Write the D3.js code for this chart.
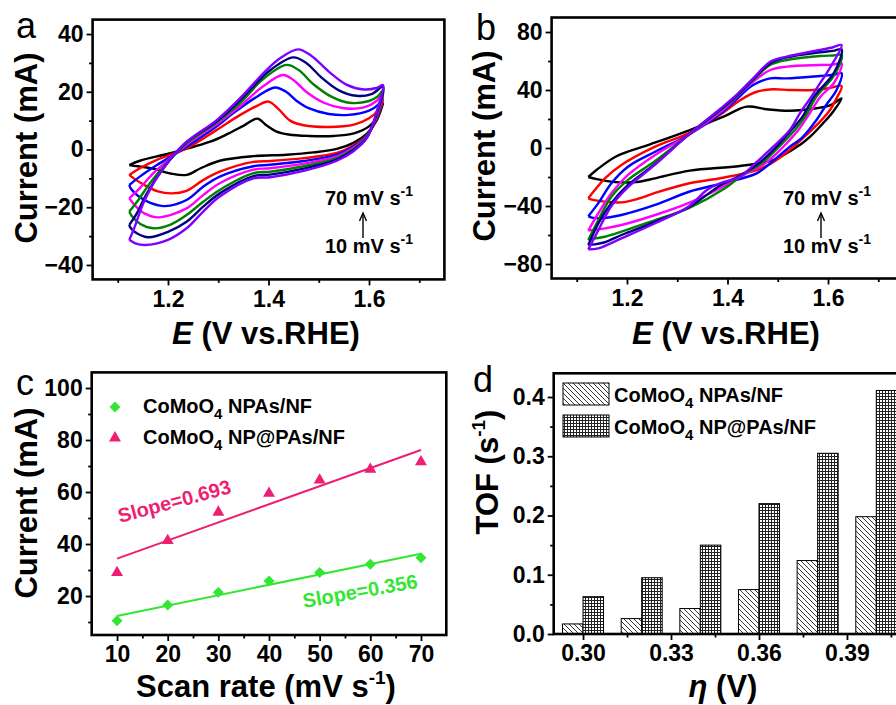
<!DOCTYPE html>
<html>
<head>
<meta charset="utf-8">
<script src="https://cdn.jsdelivr.net/npm/d3@7"></script>
<style>
  body { margin: 0; background: #fff; }
  svg { display: block; font-family: "Liberation Sans", Arial, sans-serif; font-weight: bold; }
</style>
</head>
<body>
<svg id="fig" width="896" height="705"></svg>
<script>
// ---- data -------------------------------------------------------------
// scan rates shared by panels a-c (mV/s)
const scanRates = [10, 20, 30, 40, 50, 60, 70];
const cvColors = ['#000000', '#ff0000', '#0000ff', '#ff00ff', '#008000', '#000080', '#7f00ff'];

// panel a: CoMoO4 NPAs/NF, [E (V), I (mA)], anodic sweep then cathodic sweep
const cvA10 = [[1.123,-5.4],[1.144,-3.9],[1.204,-1.3],[1.284,2.7],[1.320,5.5],[1.350,8.2],[1.378,10.7],[1.395,8.5],[1.415,6.3],[1.44,5.2],[1.48,4.7],[1.53,4.7],[1.57,5.6],[1.60,8.0],[1.618,11.5],[1.628,16.0],
  [1.615,10.0],[1.596,5.5],[1.569,2.3],[1.536,0.2],[1.49,-1.0],[1.436,-1.8],[1.370,-2.3],[1.303,-3.9],[1.265,-6.5],[1.237,-8.8],[1.205,-8.3],[1.17,-6.6],[1.14,-5.8],[1.123,-5.4]];
const cvA20 = [[1.123,-8.8],[1.144,-6.5],[1.178,-3.6],[1.237,0.4],[1.297,6.8],[1.343,11.9],[1.377,15.1],[1.400,16.6],[1.42,14.0],[1.443,10.0],[1.47,8.4],[1.52,7.8],[1.57,8.6],[1.60,10.8],[1.618,13.5],[1.628,17.1],
  [1.615,10.5],[1.596,5.0],[1.569,1.5],[1.536,-1.2],[1.47,-3.0],[1.403,-4.0],[1.370,-4.3],[1.303,-7.7],[1.27,-10.6],[1.237,-14.3],[1.207,-15.2],[1.18,-14.5],[1.15,-12.0],[1.132,-10.0],[1.123,-8.8]];
const cvA30 = [[1.123,-12.3],[1.144,-9.4],[1.178,-5.4],[1.211,-1.9],[1.247,2.1],[1.297,8.0],[1.33,12.6],[1.377,18.3],[1.413,21.5],[1.435,20.0],[1.455,17.0],[1.48,14.3],[1.52,12.3],[1.56,12.0],[1.60,13.5],[1.618,15.5],[1.628,18.9],
  [1.615,11.0],[1.596,5.0],[1.569,1.0],[1.536,-1.8],[1.47,-4.0],[1.403,-5.3],[1.370,-5.8],[1.303,-9.4],[1.27,-12.9],[1.237,-17.5],[1.194,-19.6],[1.165,-18.5],[1.14,-16.0],[1.126,-13.5],[1.123,-12.3]];
const cvA40 = [[1.123,-16.9],[1.144,-13.4],[1.171,-8.2],[1.204,-3.1],[1.240,2.1],[1.297,8.8],[1.343,15.0],[1.39,22.0],[1.429,25.8],[1.45,24.0],[1.475,20.0],[1.51,16.2],[1.55,14.3],[1.59,14.6],[1.615,16.8],[1.628,19.7],
  [1.615,11.5],[1.596,4.8],[1.569,0.6],[1.536,-2.4],[1.47,-4.9],[1.403,-6.5],[1.370,-7.0],[1.303,-11.7],[1.27,-15.8],[1.237,-20.4],[1.181,-23.5],[1.155,-22.3],[1.135,-19.5],[1.123,-16.9]];
const cvA50 = [[1.123,-21.5],[1.141,-17.5],[1.164,-11.7],[1.197,-4.8],[1.237,2.1],[1.297,9.4],[1.343,16.0],[1.39,24.5],[1.436,29.3],[1.46,27.5],[1.49,22.5],[1.525,18.3],[1.56,16.2],[1.60,16.8],[1.618,18.5],[1.628,20.6],
  [1.615,12.0],[1.596,4.5],[1.569,0.2],[1.536,-3.0],[1.47,-5.8],[1.403,-7.7],[1.370,-8.2],[1.303,-14.0],[1.27,-18.1],[1.237,-22.7],[1.204,-26.1],[1.171,-27.3],[1.145,-25.8],[1.128,-23.0],[1.123,-21.5]];
const cvA60 = [[1.123,-26.1],[1.138,-22.1],[1.158,-15.2],[1.191,-6.5],[1.234,2.1],[1.297,9.8],[1.343,17.0],[1.40,27.0],[1.449,31.9],[1.475,30.0],[1.505,25.0],[1.54,20.5],[1.575,18.6],[1.605,19.2],[1.628,21.7],
  [1.615,12.5],[1.596,4.2],[1.569,-0.2],[1.536,-3.5],[1.47,-6.6],[1.403,-8.7],[1.370,-9.2],[1.303,-15.2],[1.27,-19.8],[1.237,-25.0],[1.20,-28.5],[1.161,-30.4],[1.138,-29.0],[1.125,-27.0],[1.123,-26.1]];
const cvA70 = [[1.123,-31.3],[1.134,-26.7],[1.151,-18.6],[1.184,-8.2],[1.230,1.6],[1.297,10.2],[1.343,17.7],[1.396,27.5],[1.423,31.6],[1.459,34.7],[1.485,32.5],[1.52,27.0],[1.555,22.5],[1.59,20.8],[1.615,21.3],[1.628,22.3],
  [1.615,13.0],[1.596,4.0],[1.569,-0.6],[1.536,-3.9],[1.47,-7.4],[1.403,-9.6],[1.370,-10.0],[1.303,-16.3],[1.27,-21.5],[1.237,-27.3],[1.20,-31.3],[1.154,-33.1],[1.135,-32.5],[1.123,-31.3]];

// panel b: CoMoO4 NP@PAs/NF
const cvB10 = [[1.123,-20.0],[1.14,-15.0],[1.18,-5.5],[1.246,2.5],[1.325,12.4],[1.392,21.6],[1.438,28.5],[1.478,26.7],[1.524,25.7],[1.577,27.4],[1.605,29.5],[1.627,34.3],
  [1.610,25.0],[1.590,17.0],[1.565,8.0],[1.544,2.1],[1.491,-8.3],[1.425,-12.4],[1.325,-15.6],[1.256,-20.9],[1.219,-23.5],[1.176,-23.5],[1.14,-21.5],[1.123,-20.0]];
const cvB20 = [[1.123,-34.7],[1.136,-29.0],[1.156,-20.9],[1.189,-11.7],[1.256,0.9],[1.322,10.1],[1.392,24.5],[1.425,33.0],[1.458,38.8],[1.49,40.5],[1.524,40.0],[1.57,40.0],[1.605,41.5],[1.627,42.8],
  [1.615,33.0],[1.604,26.2],[1.585,18.5],[1.564,11.3],[1.524,-1.4],[1.485,-11.0],[1.458,-15.2],[1.391,-20.5],[1.322,-24.5],[1.256,-31.0],[1.222,-35.0],[1.189,-37.5],[1.156,-37.0],[1.135,-36.0],[1.123,-34.7]];
const cvB30 = [[1.123,-47.0],[1.143,-38.0],[1.169,-24.3],[1.202,-12.9],[1.256,-2.6],[1.322,9.0],[1.395,26.2],[1.418,33.6],[1.451,43.4],[1.485,48.0],[1.518,48.0],[1.584,49.7],[1.61,50.5],[1.627,51.5],
  [1.617,40.0],[1.597,30.0],[1.577,19.3],[1.548,7.0],[1.524,0.9],[1.485,-10.6],[1.458,-17.5],[1.391,-24.3],[1.325,-30.0],[1.256,-39.3],[1.189,-46.2],[1.149,-48.5],[1.13,-48.0],[1.123,-47.0]];
const cvB40 = [[1.123,-57.0],[1.143,-45.0],[1.169,-31.2],[1.202,-18.6],[1.256,-4.8],[1.322,9.0],[1.395,27.4],[1.418,35.0],[1.451,45.7],[1.485,53.8],[1.518,56.1],[1.584,57.2],[1.61,57.5],[1.627,58.4],
  [1.612,45.0],[1.585,35.4],[1.56,22.0],[1.541,12.4],[1.51,0.5],[1.475,-10.6],[1.44,-17.0],[1.395,-26.0],[1.322,-38.0],[1.256,-46.2],[1.189,-53.1],[1.156,-55.4],[1.135,-56.5],[1.123,-57.0]];
const cvB50 = [[1.123,-63.4],[1.143,-49.7],[1.169,-33.6],[1.202,-22.0],[1.256,-9.0],[1.322,9.0],[1.395,28.5],[1.418,35.4],[1.451,46.9],[1.485,57.2],[1.518,60.7],[1.584,63.4],[1.61,63.8],[1.627,64.1],
  [1.612,50.0],[1.577,35.4],[1.555,22.0],[1.534,12.4],[1.50,0.0],[1.468,-10.6],[1.43,-18.5],[1.395,-27.8],[1.322,-41.6],[1.256,-49.7],[1.189,-57.7],[1.156,-61.2],[1.135,-62.5],[1.123,-63.4]];
const cvB60 = [[1.123,-66.9],[1.143,-52.0],[1.169,-38.0],[1.202,-25.5],[1.256,-11.0],[1.322,9.0],[1.395,29.0],[1.418,35.9],[1.451,47.4],[1.485,58.4],[1.518,62.5],[1.584,66.0],[1.61,67.0],[1.627,68.0],
  [1.612,52.0],[1.572,35.4],[1.55,22.0],[1.527,12.4],[1.495,0.0],[1.462,-10.6],[1.425,-19.0],[1.385,-26.0],[1.322,-41.0],[1.256,-51.0],[1.189,-60.0],[1.156,-65.0],[1.135,-66.5],[1.123,-66.9]];
const cvB70 = [[1.123,-69.9],[1.143,-56.6],[1.169,-40.0],[1.202,-27.0],[1.256,-11.5],[1.322,9.0],[1.395,29.7],[1.418,36.6],[1.451,48.0],[1.485,59.5],[1.518,63.0],[1.584,67.6],[1.61,69.5],[1.627,71.0],
  [1.605,56.0],[1.584,44.6],[1.567,35.4],[1.544,23.9],[1.524,12.4],[1.491,0.9],[1.455,-10.6],[1.425,-19.8],[1.385,-24.3],[1.359,-29.0],[1.322,-40.5],[1.256,-51.9],[1.189,-62.3],[1.143,-69.2],[1.123,-69.9]];

const cvA = [cvA10, cvA20, cvA30, cvA40, cvA50, cvA60, cvA70];
const cvB = [cvB10, cvB20, cvB30, cvB40, cvB50, cvB60, cvB70];

// panel c: current vs scan rate (mA)
const currNPAs = [10.5, 16.5, 21.4, 25.8, 29.0, 32.2, 34.7];
const currNPPAs = [29.0, 41.3, 52.2, 59.5, 64.6, 68.7, 71.6];
const slopeLabels = ['Slope=0.356', 'Slope=0.693'];
const seriesNames = ['NPAs/NF', 'NP@PAs/NF'];

// panel d: TOF vs overpotential
const eta = [0.30, 0.32, 0.34, 0.36, 0.38, 0.40];
const tofNPAs = [0.017, 0.026, 0.043, 0.075, 0.124, 0.198];
const tofNPPAs = [0.063, 0.095, 0.150, 0.220, 0.305, 0.411];

// ---- helpers ----------------------------------------------------------
const svg = d3.select('#fig');
const FS_TICK = 23, FS_TITLE = 31;

function drawAxes(x, y, o) {
  const g = svg.append('g');
  const [x0, x1] = x.range(), [y0, y1] = y.range();
  const bx = g.append('g').attr('transform', `translate(0,${y0})`)
    .call(d3.axisBottom(x).tickValues(o.xMajor).tickFormat(o.xFmt).tickSize(6).tickPadding(5).tickSizeOuter(0));
  const bxm = g.append('g').attr('transform', `translate(0,${y0})`)
    .call(d3.axisBottom(x).tickValues(o.xMinor).tickSize(3.5).tickSizeOuter(0));
  const ly = g.append('g').attr('transform', `translate(${x0},0)`)
    .call(d3.axisLeft(y).tickValues(o.yMajor).tickFormat(o.yFmt).tickSize(6).tickPadding(3).tickSizeOuter(0));
  const lym = g.append('g').attr('transform', `translate(${x0},0)`)
    .call(d3.axisLeft(y).tickValues(o.yMinor).tickSize(3.5).tickSizeOuter(0));
  [bxm, lym].forEach(a => a.selectAll('text').remove());
  [bx, bxm, ly, lym].forEach(a => {
    a.select('.domain').remove();
    a.selectAll('line').attr('stroke', '#000').attr('stroke-width', 1.8);
    a.selectAll('text').attr('font-size', FS_TICK).attr('font-family', null).attr('fill', '#000');
  });
  g.append('rect').attr('x', x0).attr('y', y1).attr('width', x1 - x0).attr('height', y0 - y1)
    .attr('fill', 'none').attr('stroke', '#000').attr('stroke-width', 2.6);
  return g;
}

function panelLetter(t, x, y) {
  svg.append('text').attr('x', x).attr('y', y).text(t)
    .attr('font-size', 36).attr('font-weight', 'normal');
}

function yTitle(x, y, label) {
  svg.append('text').attr('transform', `translate(${x},${y}) rotate(-90)`)
    .attr('text-anchor', 'middle').attr('font-size', FS_TITLE).text(label);
}

function rateNote(x, y) {
  const mk = (yy, v) => {
    const t = svg.append('text').attr('x', x).attr('y', yy).attr('font-size', 20);
    t.append('tspan').text(v + ' mV s');
    t.append('tspan').text('-1').attr('font-size', 14).attr('dy', -9);
  };
  mk(y, scanRates[scanRates.length - 1]);
  mk(y + 48, scanRates[0]);
  const ax = x + 38;
  svg.append('line').attr('x1', ax).attr('x2', ax).attr('y1', y + 33).attr('y2', y + 9)
    .attr('stroke', '#000').attr('stroke-width', 1.4);
  svg.append('path').attr('d', `M${ax - 3.5},${y + 16} L${ax},${y + 8} L${ax + 3.5},${y + 16}`)
    .attr('fill', 'none').attr('stroke', '#000').attr('stroke-width', 1.4);
}

function eTitle(cx, y) {
  const t = svg.append('text').attr('x', cx).attr('y', y).attr('text-anchor', 'middle').attr('font-size', FS_TITLE);
  t.append('tspan').text('E').attr('font-style', 'italic');
  t.append('tspan').text('\u00a0(V vs.RHE)');
}

const cvLine = (x, y) => d3.line().x(d => x(d[0])).y(d => y(d[1])).curve(d3.curveCatmullRom.alpha(0.5));

// ---- panel a ----------------------------------------------------------
{
  const x = d3.scaleLinear().domain([1.05, 1.75]).range([92.6, 444.4]);
  const y = d3.scaleLinear().domain([-45, 45]).range([279.4, 19.6]);
  drawAxes(x, y, {
    xMajor: [1.2, 1.4, 1.6], xMinor: [1.1, 1.3, 1.5, 1.7], xFmt: d3.format('.1f'),
    yMajor: [-40, -20, 0, 20, 40], yMinor: [-30, -10, 10, 30], yFmt: d3.format('d')
  });
  const line = cvLine(x, y);
  svg.append('g').selectAll('path').data(cvA).join('path')
    .attr('d', line).attr('fill', 'none').attr('stroke', (d, i) => cvColors[i]).attr('stroke-width', 2.4);
  rateNote(325, 205);
  panelLetter('a', 16, 38);
  yTitle(37, 148, 'Current (mA)');
  eTitle(266, 344);
}

// ---- panel b ----------------------------------------------------------
{
  const x = d3.scaleLinear().domain([1.05, 1.75]).range([551.6, 903.4]);
  const y = d3.scaleLinear().domain([-90, 90]).range([278.5, 17.5]);
  drawAxes(x, y, {
    xMajor: [1.2, 1.4, 1.6], xMinor: [1.1, 1.3, 1.5, 1.7], xFmt: d3.format('.1f'),
    yMajor: [-80, -40, 0, 40, 80], yMinor: [-60, -20, 20, 60], yFmt: d3.format('d')
  });
  const line = cvLine(x, y);
  svg.append('g').selectAll('path').data(cvB).join('path')
    .attr('d', line).attr('fill', 'none').attr('stroke', (d, i) => cvColors[i]).attr('stroke-width', 2.4);
  rateNote(783, 205);
  panelLetter('b', 476, 40);
  yTitle(495, 146, 'Current (mA)');
  eTitle(726, 344);
}

// ---- panel c ----------------------------------------------------------
function linFit(xs, ys) {
  const mx = d3.mean(xs), my = d3.mean(ys);
  const b = d3.sum(xs, (v, i) => (v - mx) * (ys[i] - my)) / d3.sum(xs, v => (v - mx) ** 2);
  return v => my + b * (v - mx);
}
{
  const x = d3.scaleLinear().domain([5, 75]).range([91.7, 446.3]);
  const y = d3.scaleLinear().domain([5, 106]).range([635, 372.4]);
  drawAxes(x, y, {
    xMajor: scanRates, xMinor: [15, 25, 35, 45, 55, 65], xFmt: d3.format('d'),
    yMajor: [20, 40, 60, 80, 100], yMinor: [10, 30, 50, 70, 90], yFmt: d3.format('d')
  });
  const green = '#33e633', pink = '#ee1f72';
  const sets = [
    { v: currNPAs, c: green, sym: d3.symbolSquare, size: 60, rot: 45 },
    { v: currNPPAs, c: pink, sym: d3.symbolTriangle, size: 62, rot: 0 }
  ];
  const xe = d3.extent(scanRates);
  sets.forEach(s => {
    const f = linFit(scanRates, s.v);
    svg.append('line').attr('x1', x(xe[0])).attr('y1', y(f(xe[0])))
      .attr('x2', x(xe[1])).attr('y2', y(f(xe[1])))
      .attr('stroke', s.c).attr('stroke-width', 2);
    svg.append('g').selectAll('path').data(s.v).join('path')
      .attr('d', d3.symbol(s.sym, s.size))
      .attr('transform', (d, i) => `translate(${x(scanRates[i])},${y(d)}) rotate(${s.rot})`)
      .attr('fill', s.c);
  });
  svg.append('text').attr('transform', 'translate(304,608) rotate(-10)')
    .attr('font-size', 20).attr('fill', green).text(slopeLabels[0]);
  svg.append('text').attr('transform', 'translate(120,523) rotate(-15)')
    .attr('font-size', 20).attr('fill', pink).text(slopeLabels[1]);
  // legend
  sets.forEach((s, i) => {
    const ly = 407 + i * 31;
    svg.append('path').attr('d', d3.symbol(s.sym, s.size)).attr('fill', s.c)
      .attr('transform', `translate(115,${ly}) rotate(${s.rot})`);
    const t = svg.append('text').attr('x', 143).attr('y', ly + 6).attr('font-size', 20);
    t.append('tspan').text('CoMoO');
    t.append('tspan').text('4').attr('font-size', 15).attr('dy', 6);
    t.append('tspan').text(' ' + seriesNames[i]).attr('dy', -6);
  });
  panelLetter('c', 16, 395);
  yTitle(37, 503, 'Current (mA)');
  const t = svg.append('text').attr('x', 266).attr('y', 697).attr('text-anchor', 'middle').attr('font-size', FS_TITLE);
  t.append('tspan').text('Scan rate (mV s');
  t.append('tspan').text('-1').attr('font-size', 19).attr('dy', -13);
  t.append('tspan').text(')').attr('dy', 13);
}

// ---- panel d ----------------------------------------------------------
{
  const defs = svg.append('defs');
  const hatch = defs.append('pattern').attr('id', 'hatch').attr('patternUnits', 'userSpaceOnUse')
    .attr('width', 5).attr('height', 5);
  hatch.append('rect').attr('width', 5).attr('height', 5).attr('fill', '#fff');
  hatch.append('path').attr('d', 'M-1,-1 L6,6 M-3.5,1.5 L1.5,6.5 M3.5,-1.5 L8.5,3.5')
    .attr('stroke', '#222').attr('stroke-width', 0.9);
  const grid = defs.append('pattern').attr('id', 'grid').attr('patternUnits', 'userSpaceOnUse')
    .attr('width', 3).attr('height', 3);
  grid.append('rect').attr('width', 3).attr('height', 3).attr('fill', '#fff');
  grid.append('path').attr('d', 'M0,0.5 H3 M0.5,0 V3').attr('stroke', '#222').attr('stroke-width', 1);

  const x = d3.scaleLinear().domain([0.29, 0.44]).range([553.7, 993.6]);
  const y = d3.scaleLinear().domain([0, 0.44]).range([634, 373.3]);
  const bw = 20.5;
  const g = svg.append('g');
  g.selectAll('rect.npas').data(tofNPAs).join('rect').attr('class', 'npas')
    .attr('x', (d, i) => x(eta[i]) - bw).attr('width', bw)
    .attr('y', d => y(d)).attr('height', d => y(0) - y(d))
    .attr('fill', 'url(#hatch)').attr('stroke', '#000').attr('stroke-width', 1);
  g.selectAll('rect.nppas').data(tofNPPAs).join('rect').attr('class', 'nppas')
    .attr('x', (d, i) => x(eta[i])).attr('width', bw)
    .attr('y', d => y(d)).attr('height', d => y(0) - y(d))
    .attr('fill', 'url(#grid)').attr('stroke', '#000').attr('stroke-width', 1);
  // the 0.42 tick lies beyond the visible part of the panel
  drawAxes(x, y, {
    xMajor: [0.30, 0.33, 0.36, 0.39], xMinor: [0.315, 0.345, 0.375, 0.405], xFmt: d3.format('.2f'),
    yMajor: [0, 0.1, 0.2, 0.3, 0.4], yMinor: [0.05, 0.15, 0.25, 0.35], yFmt: d3.format('.1f')
  });
  ['hatch', 'grid'].forEach((p, i) => {
    const ly = 383 + i * 32;
    svg.append('rect').attr('x', 563).attr('y', ly).attr('width', 46).attr('height', 22)
      .attr('fill', `url(#${p})`).attr('stroke', '#000').attr('stroke-width', 1);
    const t = svg.append('text').attr('x', 614).attr('y', ly + 19).attr('font-size', 20);
    t.append('tspan').text('CoMoO');
    t.append('tspan').text('4').attr('font-size', 15).attr('dy', 6);
    t.append('tspan').text(' ' + seriesNames[i]).attr('dy', -6);
  });
  panelLetter('d', 473, 392);
  const yt = svg.append('text').attr('transform', 'translate(498,472) rotate(-90)')
    .attr('text-anchor', 'middle').attr('font-size', FS_TITLE);
  yt.append('tspan').text('TOF (s');
  yt.append('tspan').text('-1').attr('font-size', 19).attr('dy', -13);
  yt.append('tspan').text(')').attr('dy', 13);
  const xt = svg.append('text').attr('x', 723).attr('y', 697).attr('text-anchor', 'middle').attr('font-size', FS_TITLE);
  xt.append('tspan').text('\u03b7').attr('font-style', 'italic');
  xt.append('tspan').text(' (V)');
}
</script>
</body>
</html>
